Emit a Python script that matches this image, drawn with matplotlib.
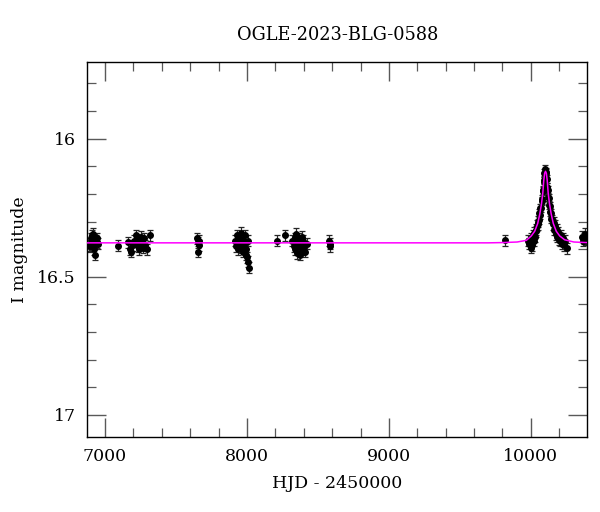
import numpy as np
import matplotlib.pyplot as plt

# OGLE photometry (HJD - 2450000, I mag)
hjd = [6885, 6892, 6898, 6905, 6910, 6915, 6920, 6925, 6930, 6935, 6940, 6945, 6950,
       7094,
       7165, 7175, 7185, 7195, 7205, 7215, 7222, 7230, 7238, 7245, 7252, 7260, 7268,
       7275, 7285, 7295, 7320,
       7648, 7652, 7655, 7660, 7664,
       7915, 7922, 7928, 7935, 7940, 7945, 7950, 7955, 7960, 7965, 7970, 7975, 7980,
       7985, 7990, 7995, 8000, 8005, 8010, 8016,
       8213, 8268,
       8320, 8330, 8335, 8340, 8345, 8350, 8355, 8360, 8365, 8370, 8375, 8380, 8385,
       8390, 8395, 8400, 8410, 8420,
       8578, 8582, 8585,
       9817,
       9978, 9988, 9998, 10003, 10008, 10015, 10021, 10025, 10031, 10035, 10039, 10043,
       10047, 10051, 10055, 10059, 10063, 10067, 10071, 10075, 10079, 10083, 10086,
       10089, 10092, 10095, 10098, 10101, 10104, 10107, 10110, 10113, 10116, 10119,
       10122, 10125, 10129, 10133, 10137, 10141, 10145, 10150, 10155, 10160, 10165,
       10170, 10175, 10181, 10187, 10193, 10199, 10205, 10211, 10218, 10225, 10233,
       10243, 10252,
       10362, 10368, 10375, 10381, 10387]
mag = [16.385, 16.39, 16.36, 16.35, 16.37, 16.345, 16.38, 16.40, 16.42, 16.37, 16.375, 16.36, 16.38,
       16.388,
       16.375, 16.40, 16.41, 16.385, 16.37, 16.35, 16.365, 16.39, 16.40, 16.37, 16.355, 16.38, 16.395,
       16.36, 16.385, 16.40, 16.35,
       16.36, 16.41, 16.375, 16.385, 16.37,
       16.37, 16.39, 16.35, 16.38, 16.40, 16.36, 16.375, 16.34, 16.395, 16.38, 16.41, 16.365, 16.385,
       16.35, 16.42, 16.40, 16.43, 16.445, 16.37, 16.468,
       16.37, 16.35,
       16.37, 16.39, 16.36, 16.40, 16.345, 16.38, 16.415, 16.37, 16.39, 16.36, 16.42, 16.38, 16.355,
       16.40, 16.37, 16.39, 16.41, 16.38,
       16.37, 16.39, 16.38,
       16.368,
       16.37, 16.38, 16.395, 16.36, 16.385, 16.35, 16.37, 16.34, 16.355, 16.33, 16.335, 16.315,
       16.31, 16.30, 16.295, 16.27, 16.275, 16.25, 16.25, 16.225, 16.22, 16.19, 16.185,
       16.155, 16.15, 16.125, 16.125, 16.11, 16.125, 16.12, 16.145, 16.145, 16.175, 16.185,
       16.21, 16.215, 16.24, 16.245, 16.265, 16.27, 16.29, 16.29, 16.31, 16.305, 16.33,
       16.315, 16.345, 16.33, 16.355, 16.34, 16.365, 16.37, 16.35, 16.38, 16.36, 16.385,
       16.37, 16.396,
       16.355, 16.37, 16.36, 16.345, 16.365]
# typical photometric error: smaller near the peak
err = [0.015 if m < 16.3 else 0.02 for m in mag]

# model light curve
model_t = [6873, 9700, 9803, 9903, 9968, 10003, 10027, 10048, 10063, 10075, 10084, 10091,
           10097, 10103, 10109, 10115, 10122, 10131, 10143, 10158, 10179, 10203, 10238,
           10303, 10394]
model_mag = [16.377, 16.377, 16.376, 16.374, 16.368, 16.352, 16.335, 16.307, 16.272, 16.235,
             16.197, 16.15, 16.125, 16.118, 16.125, 16.15, 16.197, 16.235, 16.272, 16.307,
             16.335, 16.352, 16.366, 16.374, 16.376]

plt.rcParams['font.family'] = 'DejaVu Serif'
fig = plt.figure(figsize=(6, 5.12), dpi=100)
ax = fig.add_axes([0.145, 0.1465, 0.833, 0.7325])

ax.plot(model_t, model_mag, color='#ff00ff', lw=1.1, zorder=3)
ax.errorbar(hjd, mag, yerr=err, fmt='o', color='black', ms=4.0, ecolor='0.15',
            elinewidth=0.9, capsize=2.4, capthick=0.9, zorder=2)

ax.set_xlim(6873, 10394)
ax.set_ylim(17.08, 15.722)
ax.set_xticks([7000, 8000, 9000, 10000])
ax.set_xticks(np.arange(7200, 10400, 200), minor=True)
ax.set_yticks([16, 16.5, 17])
ax.set_yticklabels(['16', '16.5', '17'])
ax.set_yticks(np.arange(15.8, 17.05, 0.1), minor=True)
ax.tick_params(which='both', direction='in', top=True, right=True, labelsize=12.5,
               color='0.35')
ax.tick_params(which='major', length=13.5, width=1.0, pad=8)
ax.tick_params(which='minor', length=6.8, width=0.9)
for s in ax.spines.values():
    s.set_linewidth(1.0)

ax.set_xlabel('HJD - 2450000', fontsize=12.5, labelpad=7)
ax.set_ylabel('I magnitude', fontsize=12.5, labelpad=7)
fig.text(0.562, 0.932, 'OGLE-2023-BLG-0588', ha='center', va='center', fontsize=12.8)

fig.savefig('out.png', dpi=100)
